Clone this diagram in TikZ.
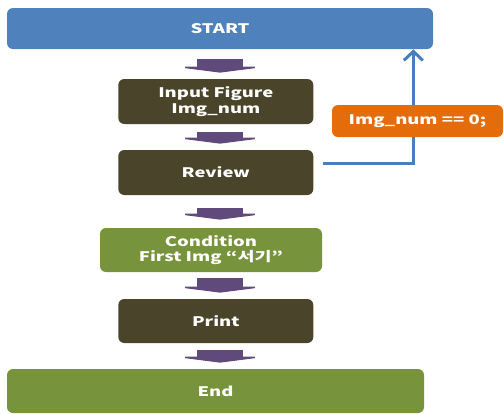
\documentclass[tikz,border=0pt]{standalone}
\usepackage{fontspec}
\setmainfont{Noto Sans CJK KR}[FakeStretch=1.4]
\usetikzlibrary{calc,arrows.meta}
\definecolor{startblue}{RGB}{79,129,189}
\definecolor{darkbox}{RGB}{74,69,42}
\definecolor{greenbox}{RGB}{119,147,60}
\definecolor{orangebox}{RGB}{228,108,10}
\definecolor{flowpurple}{RGB}{96,74,123}
\definecolor{backblue}{RGB}{74,126,187}
\newcommand{\px}{0.02cm}
\tikzset{
  box/.style={rounded corners=0.12cm, text=white, align=center, inner sep=0pt,
    font=\fontsize{7.5}{8.8}\selectfont\bfseries},
  flow/.style={flowpurple, line width=46*\px,
    -{Triangle[width=93*\px, length=6*\px]}},
  backline/.style={backblue, line width=3*\px,
    -{Straight Barb[width=19*\px, length=9*\px, line width=3*\px]}}
}

\begin{document}
\begin{tikzpicture}[x=\px, y=-\px]
\useasboundingbox (0,0) rectangle (504,414);
\node[box, fill=startblue, minimum width=426*\px, minimum height=41*\px] (start) at (220, 28.5) {START};
\node[box, fill=darkbox, minimum width=195*\px, minimum height=45*\px] (input) at (215.8, 101.5) {Input Figure\\Img\_num};
\node[box, fill=darkbox, minimum width=195*\px, minimum height=45*\px] (review) at (215.8, 172.5) {Review};
\node[box, fill=greenbox, minimum width=222*\px, minimum height=44*\px] (cond) at (211, 250) {Condition\\First Img “서기”};
\node[box, fill=darkbox, minimum width=195*\px, minimum height=44*\px] (print) at (215.8, 321) {Print};
\node[box, fill=greenbox, minimum width=417*\px, minimum height=44*\px] (finish) at (215.5, 391) {End};
%flow
\draw[flow, shorten <=10*\px, shorten >=6*\px] (start.south) -- (input.north -| start);
\draw[flow, shorten <=8*\px, shorten >=6*\px] (input.south -| start) -- (review.north -| start);
\draw[flow, shorten <=13*\px, shorten >=8*\px] (review.south -| start) -- (cond.north -| start);
\draw[flow, shorten <=6*\px, shorten >=6*\px] (cond.south -| start) -- (print.north -| start);
\draw[flow, shorten <=7*\px, shorten >=6*\px] (print.south -| start) -- (finish.north -| start);
%back to start
\draw[backline] ([shift={(9,-9.5)}]review.east) -| ([xshift=-20*\px]start.south east);
\node[box, fill=orangebox, minimum width=171*\px, minimum height=32*\px] (zero) at (417.5, 121) {Img\_num == 0;};
\end{tikzpicture}
\end{document}
